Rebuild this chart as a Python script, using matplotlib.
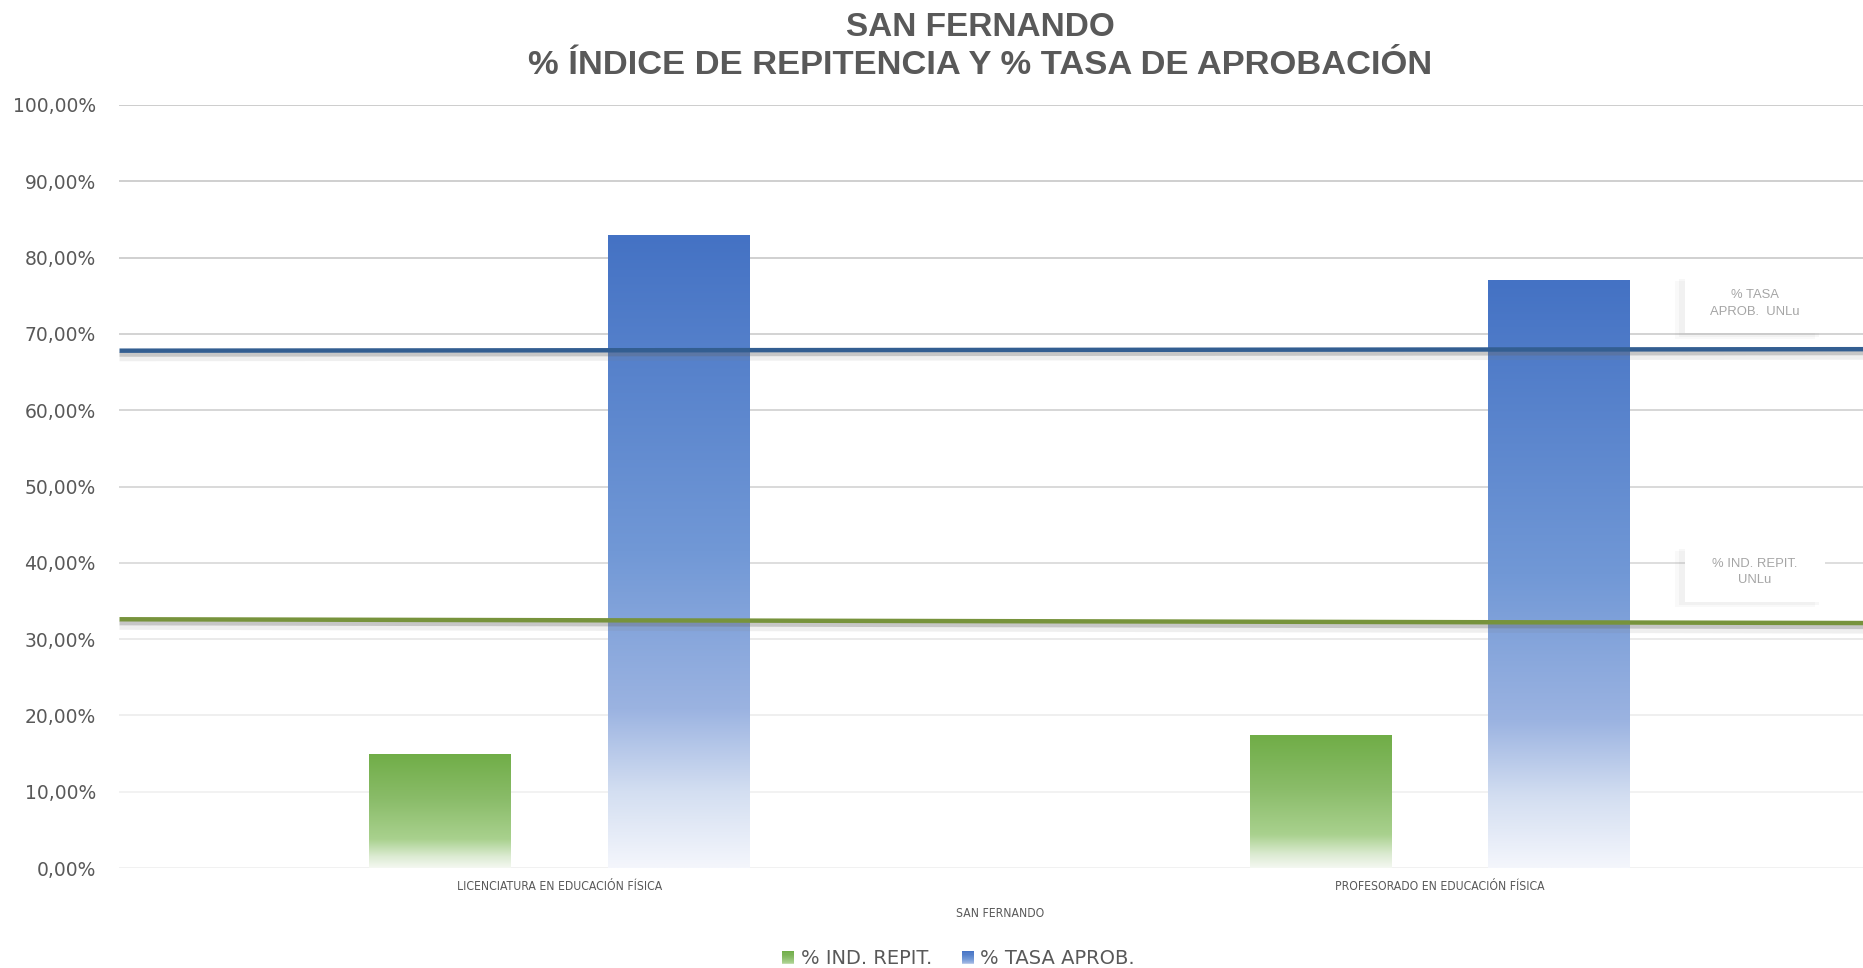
import numpy as np
import matplotlib
matplotlib.use('Agg')
import matplotlib.pyplot as plt
import matplotlib.patheffects as pe
from matplotlib import font_manager as fm
from matplotlib.colors import LinearSegmentedColormap
from matplotlib.legend_handler import HandlerBase
from matplotlib.patches import Rectangle

# ---------------- data ----------------
categories = ['LICENCIATURA EN EDUCACIÓN FÍSICA', 'PROFESORADO EN EDUCACIÓN FÍSICA']
ind_repit = [15.0, 17.4]
tasa_aprob = [83.0, 77.0]
unlu_x = [-0.5, 1.5]
unlu_tasa = [67.8, 68.0]
unlu_repit = [32.6, 32.1]
y_ticks = list(range(0, 101, 10))
y_tick_labels = [f'{v},00%' for v in y_ticks]
series_names = ['% IND. REPIT.', '% TASA APROB.']
x_title = 'SAN FERNANDO'
title1 = 'SAN FERNANDO'
title2 = '% ÍNDICE DE REPITENCIA Y % TASA DE APROBACIÓN'

GRAY = '#595959'
green_cmap = LinearSegmentedColormap.from_list(
    'g', [(0, '#F4F8F1'), (0.10, '#DCEBD2'), (0.25, '#A9D18E'), (0.6, '#8ABC69'), (1, '#70AD47')])
blue_cmap = LinearSegmentedColormap.from_list(
    'b', [(0, '#F4F6FC'), (0.12, '#D3DEF1'), (0.25, '#9BB3E1'), (0.5, '#7198D6'), (1, '#4472C4')])

# narrow font for category labels
narrow = None
for fam in ['Liberation Sans Narrow']:
    try:
        p = fm.findfont(fm.FontProperties(family=fam), fallback_to_default=False)
        narrow = fm.FontProperties(fname=p, size=9.5)
        break
    except Exception:
        pass
if narrow is None:
    fp = fm.FontProperties(family='DejaVu Sans', stretch='condensed')
    p = fm.findfont(fp)
    if 'Condensed' in p:
        narrow = fm.FontProperties(fname=p, size=8.75)
    else:
        narrow = fm.FontProperties(family='DejaVu Sans', size=7.3)

W, H = 1863, 968
fig = plt.figure(figsize=(W / 100, H / 100), dpi=100)
ax = fig.add_axes([119.5 / W, 100 / H, 1760.5 / W, 763 / H])

x = np.arange(len(categories))
bw = 0.161
off = 0.1357

def grad_bars(xpos, vals, cmap):
    bars = ax.bar(xpos, vals, width=bw, color='none', edgecolor='none', zorder=2)
    g = np.linspace(0, 1, 256).reshape(-1, 1)
    for b in bars:
        x0 = b.get_x()
        im = ax.imshow(g, extent=[x0, x0 + b.get_width(), 0, b.get_height()], origin='lower',
                       cmap=cmap, aspect='auto', zorder=2, interpolation='bilinear')
        im.set_clip_path(b)
    return bars

grad_bars(x - off, ind_repit, green_cmap)
grad_bars(x + off, tasa_aprob, blue_cmap)

shadow = [pe.SimpleLineShadow(offset=(0, -2.8), shadow_color='#6a6a6a', alpha=0.38),
          pe.SimpleLineShadow(offset=(0, -6), shadow_color='#808080', alpha=0.12),
          pe.Normal()]
ax.plot(unlu_x, unlu_tasa, color='#335E91', lw=3.2, zorder=3, solid_capstyle='butt', path_effects=shadow)
ax.plot(unlu_x, unlu_repit, color='#77933C', lw=3.2, zorder=3, solid_capstyle='butt', path_effects=shadow)

# labels for the UNLu lines
box_w = 0.159
for (y0, y1, yt, txt) in [(70.1, 77.7, 74.0, '% TASA\nAPROB.  UNLu'),
                          (34.9, 42.3, 38.8, '% IND. REPIT.\nUNLu')]:
    r = Rectangle((1.3578 - box_w / 2, y0), box_w, y1 - y0, fc='white', ec='none', zorder=4)
    r.set_path_effects([pe.SimplePatchShadow(offset=(-7, -4), shadow_rgbFace='#909090', alpha=0.05),
                        pe.SimplePatchShadow(offset=(-4, -2.5), shadow_rgbFace='#909090', alpha=0.07),
                        pe.Normal()])
    ax.add_patch(r)
    ax.text(1.3578, yt, txt, ha='center', va='center', fontsize=9.4, color='#A5A5A5',
            family='Liberation Sans', linespacing=1.5, zorder=5)

ax.set_xlim(-0.5, 1.5)
ax.set_ylim(0, 100)
ax.set_yticks(y_ticks)
ax.set_yticklabels(y_tick_labels, fontsize=13.5, color=GRAY, family='DejaVu Sans')
ax.set_xticks(x)
ax.set_xticklabels(categories, color=GRAY, fontproperties=narrow)
ax.tick_params(axis='both', length=0)
ax.tick_params(axis='y', pad=17)
ax.tick_params(axis='x', pad=9)
ax.set_xlabel(x_title, color=GRAY, fontproperties=narrow, labelpad=10)
for s in ax.spines.values():
    s.set_visible(False)
ax.set_axisbelow(True)
ax.yaxis.grid(True, lw=1.1)
grid_cols = ['#EDEDED', '#EFEFEF', '#EBEBEB', '#E4E4E4', '#D4D4D4', '#D0D0D0',
             '#CCCCCC', '#C8C8C8', '#C4C4C4', '#C2C2C2', '#C0C0C0']
for gl, c in zip(ax.get_ygridlines(), grid_cols):
    gl.set_color(c)

# titles
fig.text(0.526, 1 - 27 / H, title1, ha='center', va='center', fontsize=24, weight='bold',
         family='Liberation Sans', color=GRAY)
t2 = fig.text(0.526, 1 - 65 / H, title2, ha='center', va='center', fontsize=24.8, weight='bold',
              family='Liberation Sans', color=GRAY)

# legend with gradient squares
class GradHandler(HandlerBase):
    def __init__(self, cmap):
        super().__init__()
        self.cmap = cmap
    def create_artists(self, legend, orig_handle, xdescent, ydescent, width, height, fontsize, trans):
        n = 12
        arts = []
        for i in range(n):
            arts.append(Rectangle((-xdescent, -ydescent + i * height / n), width, height / n + 0.3,
                                  fc=self.cmap(0.15 + 0.85 * (i + 0.5) / n), ec='none', transform=trans))
        return arts

h1 = Rectangle((0, 0), 1, 1)
h2 = Rectangle((0, 0), 1, 1)
leg = fig.legend([h1, h2], series_names, loc='center', bbox_to_anchor=(0.5145, 9 / H), ncol=2,
                 frameon=False, prop={'family': 'DejaVu Sans', 'size': 14},
                 handlelength=0.62, handleheight=0.62, handletextpad=0.32, columnspacing=1.55,
                 handler_map={h1: GradHandler(green_cmap), h2: GradHandler(blue_cmap)})
for t in leg.get_texts():
    t.set_color(GRAY)

fig.savefig('out.png', dpi=100)
